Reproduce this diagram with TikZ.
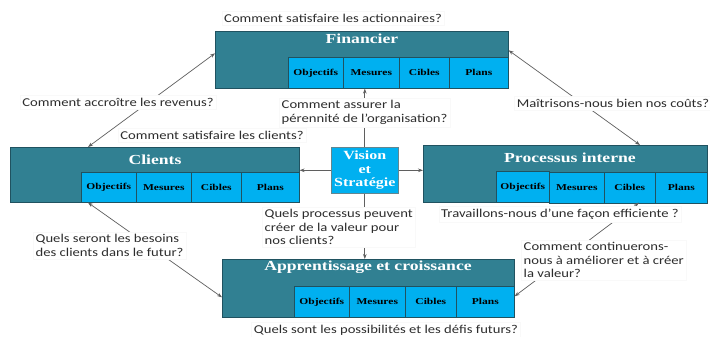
\documentclass[tikz,border=0pt]{standalone}
\usepackage{fontspec}
\usetikzlibrary{arrows.meta,calc}
% question texts and panel headings
\newfontfamily\qfont[FakeStretch=1.22]{Carlito}
\newfontfamily\hfont[FakeStretch=1.28]{Liberation Serif}

\definecolor{panel}{RGB}{49,128,146}
\definecolor{cell}{RGB}{0,176,240}
\definecolor{edge}{RGB}{32,82,96}
\definecolor{qtext}{RGB}{45,45,45}
\definecolor{wire}{RGB}{95,95,95}

\tikzset{
  panelbox/.style={draw=edge, fill=panel, line width=0.6pt, inner sep=0pt, anchor=north west},
  cellbox/.style={draw=edge, fill=cell, line width=0.6pt, inner sep=0pt, anchor=north west,
    text=black, font=\hfont\bfseries\fontsize{9}{10}\selectfont},
  paneltitle/.style={text=white, inner sep=0pt, font=\hfont\bfseries\fontsize{13.8}{15}\selectfont},
  visionbox/.style={draw=edge!70, fill=cell, line width=0.6pt, inner sep=0pt, anchor=north west,
    text=white, align=center, font=\hfont\bfseries\fontsize{12.5}{13.5}\selectfont},
  qlabel/.style={fill=white, draw=gray!5, line width=0.4pt, text=qtext, inner sep=2.5pt,
    align=left, font=\qfont\fontsize{12}{13.3}\selectfont},
  wireline/.style={draw=wire, line width=0.7pt},
  tip/.style={-{Stealth[length=5pt,width=3.6pt]}},
  twotips/.style={{Stealth[length=5pt,width=3.6pt]}-{Stealth[length=5pt,width=3.6pt]}},
}

\begin{document}
\begin{tikzpicture}[x=1pt,y=-1pt]
\useasboundingbox[fill=white] (0,0) rectangle (710,337);

% Financier
\node[panelbox, minimum width=293pt, minimum height=57pt] (fin) at (215,31) {};
\node[paneltitle] (fin-t) at (362,39) {Financier};
\node[cellbox, minimum width=55pt, minimum height=31pt] (fin-o) at (288,57) {Objectifs};
\node[cellbox, minimum width=56pt, minimum height=31pt] (fin-m) at (343,57) {Mesures};
\node[cellbox, minimum width=50pt, minimum height=31pt] (fin-c) at (399,57) {Cibles};
\node[cellbox, minimum width=59pt, minimum height=31pt] (fin-p) at (449,57) {Plans};

% Clients
\node[panelbox, minimum width=289pt, minimum height=55pt] (cli) at (10,147) {};
\node[paneltitle] (cli-t) at (155,159.5) {Clients};
\node[cellbox, minimum width=55pt, minimum height=30pt] (cli-o) at (81,172) {Objectifs};
\node[cellbox, minimum width=55pt, minimum height=30pt] (cli-m) at (136,172) {Mesures};
\node[cellbox, minimum width=50pt, minimum height=30pt] (cli-c) at (191,172) {Cibles};
\node[cellbox, minimum width=58pt, minimum height=30pt] (cli-p) at (241,172) {Plans};

% Processus interne
\node[panelbox, minimum width=284pt, minimum height=57pt] (proc) at (423,145) {};
\node[paneltitle] (proc-t) at (570,158) {Processus interne};
\node[cellbox, minimum width=53pt, minimum height=31pt] (proc-o) at (496,171) {Objectifs};
\node[cellbox, minimum width=55pt, minimum height=31pt] (proc-m) at (549,172) {Mesures};
\node[cellbox, minimum width=51pt, minimum height=31pt] (proc-c) at (604,172) {Cibles};
\node[cellbox, minimum width=52pt, minimum height=31pt] (proc-p) at (655,172) {Plans};

% Apprentissage et croissance
\node[panelbox, minimum width=292pt, minimum height=58pt] (app) at (222,259) {};
\node[paneltitle] (app-t) at (368,267) {Apprentissage et croissance};
\node[cellbox, minimum width=55pt, minimum height=31pt] (app-o) at (294,286) {Objectifs};
\node[cellbox, minimum width=56pt, minimum height=31pt] (app-m) at (349,286) {Mesures};
\node[cellbox, minimum width=51pt, minimum height=31pt] (app-c) at (405,286) {Cibles};
\node[cellbox, minimum width=58pt, minimum height=31pt] (app-p) at (456,286) {Plans};

% Vision et Strategie
\node[visionbox, minimum width=67pt, minimum height=46pt] (vis) at (331,147) {Vision\\et\\Stratégie};

% connectors from the centre to the four panels
\draw[wireline, tip] (vis.north) -- (vis.north |- fin.south);
\draw[wireline, tip] (vis.west) -- (vis.west -| cli.east);
\draw[wireline, tip] (vis.east) -- (vis.east -| proc.west);
\draw[wireline, tip] (vis.south) -- (vis.south |- app.north);

% connectors around the cycle
\draw[wireline, twotips] ([yshift=6.5pt]fin.west) -- ([xshift=78pt]cli.north west);
\draw[wireline, twotips] ([yshift=9.5pt]fin.east) -- ([xshift=217pt]proc.north west);
\draw[wireline, twotips] ([xshift=78pt]cli.south west) -- ([yshift=-9pt]app.west);
\draw[wireline, twotips] ([xshift=216pt]proc.south west) -- ([yshift=-8pt]app.east);

% questions
\node[qlabel] (q-act) at (333,18) {Comment satisfaire les actionnaires?};
\node[qlabel] (q-rev) at (118,102) {Comment accroître les revenus?};
\node[qlabel] (q-cli) at (212,135) {Comment satisfaire les clients?};
\node[qlabel] (q-cout) at (613,103) {Maîtrisons-nous bien nos coûts?};
\node[qlabel, anchor=west] (q-per) at (279,112.5) {Comment assurer la\\pérennité de l’organisation?};
\node[qlabel] (q-eff) at (560,214) {Travaillons-nous d’une façon efficiente ?};
\node[qlabel, anchor=west] (q-proc) at (262,227) {Quels processus peuvent\\créer de  la valeur pour\\nos clients?};
\node[qlabel, anchor=west] (q-bes) at (33,245.5) {Quels seront les besoins\\des clients dans le futur?};
\node[qlabel, anchor=west] (q-amel) at (521,260) {Comment continuerons-\\nous à améliorer et à créer\\la valeur?};
\node[qlabel] (q-def) at (386,330) {Quels sont les possibilités et les défis futurs?};
\end{tikzpicture}
\end{document}
